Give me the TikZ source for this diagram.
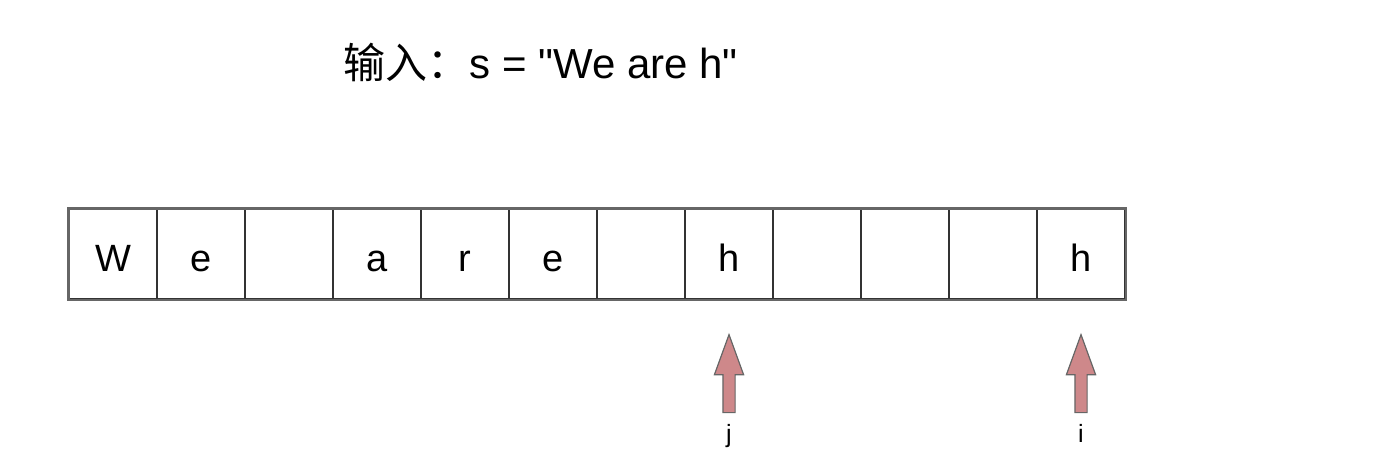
\documentclass[tikz,border=0pt]{standalone}
\usepackage{fontspec}
\setmainfont{Liberation Sans}[Ligatures=TeXOff]
\newfontfamily\cjk{Noto Sans CJK SC}
\usetikzlibrary{shapes.arrows}

\begin{document}
\begin{tikzpicture}[x=1pt, y=-1pt,
    cell/.style={draw=black!80, line width=1.2pt, minimum width=88pt, minimum height=90pt,
                 inner sep=0pt, text height=34pt, text depth=0pt,
                 font=\fontsize{38}{40}\selectfont},
    ptr/.style={single arrow, draw=black!60, line width=1.2pt,
                fill={rgb,255:red,206;green,136;blue,138}, rotate=90,
                inner xsep=0pt, inner ysep=5.5pt,
                minimum height=78pt, minimum width=28pt,
                single arrow head extend=8.5pt, single arrow tip angle=40},
    lbl/.style={font=\fontsize{25}{27}\selectfont, anchor=base}]
    \useasboundingbox (0,0) rectangle (1382,460);
    % input string
    \node[anchor=base west, font=\fontsize{42}{46}\selectfont] (title) at (340,78)
        {{\cjk 输入：}s = "We are h"};
    % cells
    \foreach \ch [count=\k] in {W,e,{},a,r,e,{},h,{},{},{},h}
        \node[cell] (c\k) at ({25+88*\k},254) {\ch};
    \draw[black!60, line width=2.2pt] (c1.north west) rectangle (c12.south east);
    % pointers j and i
    \node[ptr] (pj) at (c8 |- 0,382) {};
    \node[ptr] (pi) at (c12 |- 0,382) {};
    \node[lbl] (j) at (c8 |- 0,442) {j};
    \node[lbl] (i) at (c12 |- 0,442) {i};
\end{tikzpicture}
\end{document}
